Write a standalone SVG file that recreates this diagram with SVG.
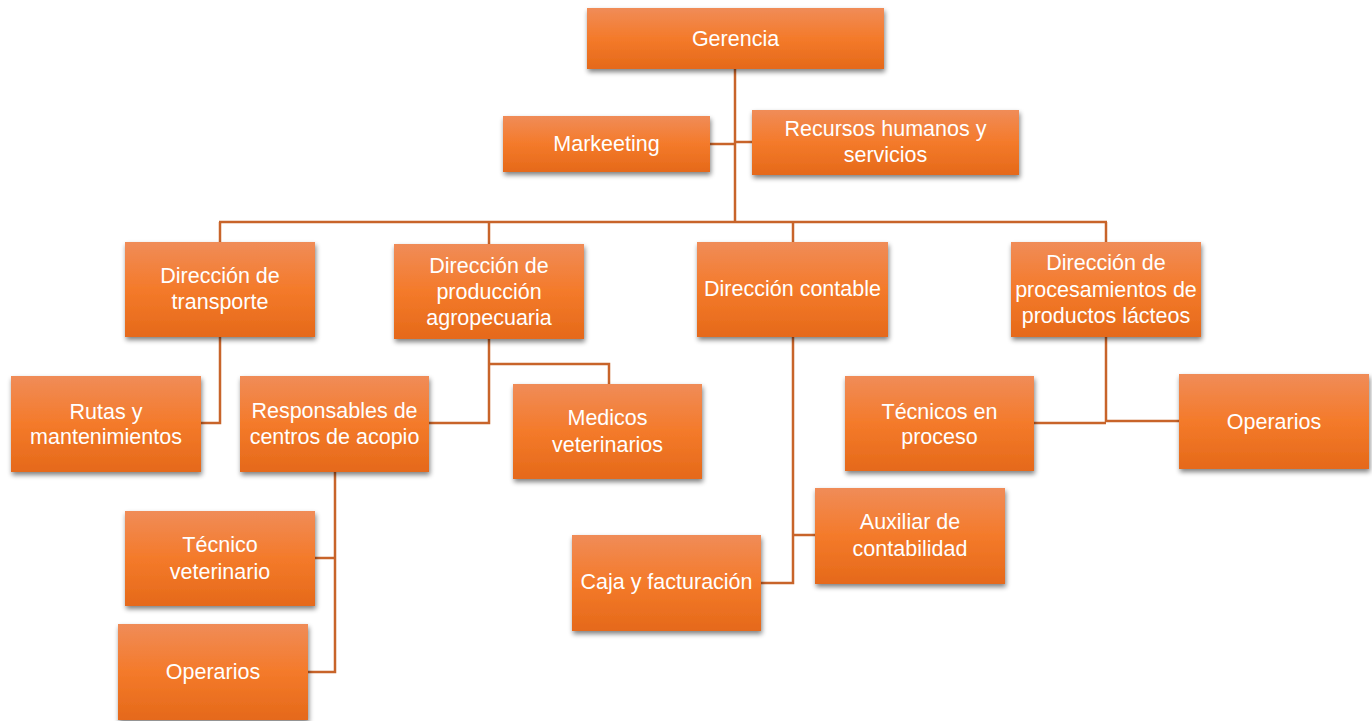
<svg xmlns="http://www.w3.org/2000/svg" width="1372" height="721" viewBox="0 0 1372 721">
<defs>
<linearGradient id="g" x1="0" y1="0" x2="0" y2="1">
<stop offset="0" stop-color="#F08C58"/>
<stop offset="0.5" stop-color="#F47A2A"/>
<stop offset="1" stop-color="#E5691A"/>
</linearGradient>
<filter id="sh" x="-10%" y="-10%" width="125%" height="130%">
<feGaussianBlur in="SourceAlpha" stdDeviation="2.5"/>
<feOffset dx="1" dy="3" result="b"/>
<feComponentTransfer><feFuncA type="linear" slope="0.5"/></feComponentTransfer>
<feMerge><feMergeNode/><feMergeNode in="SourceGraphic"/></feMerge>
</filter>
<style>
.box{fill:url(#g);filter:url(#sh);}
.t{font-family:"Liberation Sans",Arial,sans-serif;font-size:21.5px;fill:#FFFFFF;text-anchor:middle;}
.c{fill:none;stroke:#C8642A;stroke-width:2.5;}
</style>
</defs>
<rect width="1372" height="721" fill="#FFFFFF"/>
<g id="connectors" class="c">
<path d="M735,69 V222"/>
<path d="M219,222 H1107"/>
<path d="M710,144 H735"/>
<path d="M735,142 H752"/>
<path d="M220,222 V242"/>
<path d="M489,222 V244"/>
<path d="M793,222 V242"/>
<path d="M1106,222 V242"/>
<path d="M220,337 V423 H201"/>
<path d="M489,339 V423 H429"/>
<path d="M489,364 H609 V384"/>
<path d="M793,337 V583 H761"/>
<path d="M793,535 H815"/>
<path d="M1106,337 V422"/>
<path d="M1034,423 H1106"/>
<path d="M1106,421 H1179"/>
<path d="M335,472 V672 H308"/>
<path d="M335,558 H315"/>
</g>
<g id="gerencia"><rect class="box" x="587" y="8" width="297" height="61"/><text class="t" x="735.5" y="46">Gerencia</text></g>
<g id="marketing"><rect class="box" x="503" y="116" width="207" height="56"/><text class="t" x="606.5" y="151">Markeeting</text></g>
<g id="rrhh"><rect class="box" x="752" y="110" width="267" height="65"/><text class="t" x="885.5" y="136">Recursos humanos y</text><text class="t" x="885.5" y="162">servicios</text></g>
<g id="transporte"><rect class="box" x="125" y="242" width="190" height="95"/><text class="t" x="220" y="283">Dirección de</text><text class="t" x="220" y="309">transporte</text></g>
<g id="produccion"><rect class="box" x="394" y="244" width="190" height="95"/><text class="t" x="489" y="273">Dirección de</text><text class="t" x="489" y="299">producción</text><text class="t" x="489" y="325">agropecuaria</text></g>
<g id="contable"><rect class="box" x="697" y="242" width="191" height="95"/><text class="t" x="792.5" y="296">Dirección contable</text></g>
<g id="procesamientos"><rect class="box" x="1011" y="242" width="190" height="95"/><text class="t" x="1106" y="270">Dirección de</text><text class="t" x="1106" y="297">procesamientos de</text><text class="t" x="1106" y="323">productos lácteos</text></g>
<g id="rutas"><rect class="box" x="11" y="376" width="190" height="96"/><text class="t" x="106" y="419">Rutas y</text><text class="t" x="106" y="444">mantenimientos</text></g>
<g id="responsables"><rect class="box" x="240" y="376" width="189" height="96"/><text class="t" x="334.5" y="418">Responsables de</text><text class="t" x="334.5" y="444">centros de acopio</text></g>
<g id="medicos"><rect class="box" x="513" y="384" width="189" height="95"/><text class="t" x="607.5" y="425">Medicos</text><text class="t" x="607.5" y="452">veterinarios</text></g>
<g id="tecnicos-proceso"><rect class="box" x="845" y="376" width="189" height="95"/><text class="t" x="939.5" y="419">Técnicos en</text><text class="t" x="939.5" y="444">proceso</text></g>
<g id="operarios-procesamiento"><rect class="box" x="1179" y="374" width="190" height="95"/><text class="t" x="1274" y="429">Operarios</text></g>
<g id="tecnico-veterinario"><rect class="box" x="125" y="511" width="190" height="95"/><text class="t" x="220" y="552">Técnico</text><text class="t" x="220" y="579">veterinario</text></g>
<g id="operarios-acopio"><rect class="box" x="118" y="624" width="190" height="96"/><text class="t" x="213" y="679">Operarios</text></g>
<g id="caja"><rect class="box" x="572" y="535" width="189" height="96"/><text class="t" x="666.5" y="589">Caja y facturación</text></g>
<g id="auxiliar"><rect class="box" x="815" y="488" width="190" height="96"/><text class="t" x="910" y="529">Auxiliar de</text><text class="t" x="910" y="556">contabilidad</text></g>
</svg>
